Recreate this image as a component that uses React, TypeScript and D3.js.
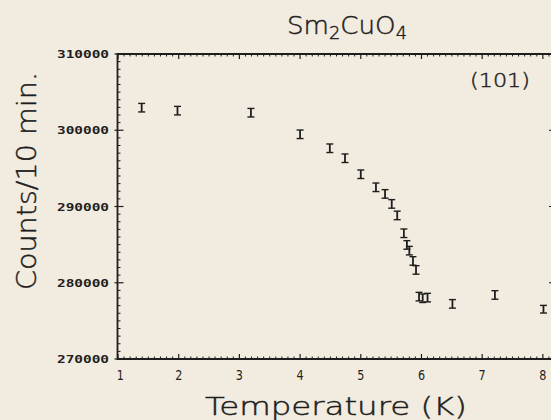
import React from "react";
import * as d3 from "d3";

const temperatures = [1.39, 1.98, 3.19, 4.0, 4.49, 4.74, 5.0, 5.25, 5.4, 5.51, 5.6, 5.71, 5.76, 5.8, 5.86, 5.91, 5.96, 6.02, 6.1, 6.51, 7.21, 8.01];
const counts = [302960, 302570, 302300, 299470, 297640, 296330, 294230, 292520, 291650, 290340, 288830, 286490, 284960, 284210, 282860, 281680, 278180, 277970, 278050, 277230, 278400, 276530];
const errors = [560, 560, 560, 560, 560, 560, 560, 560, 560, 560, 560, 560, 560, 560, 560, 560, 560, 560, 560, 560, 560, 500];
const xTicks = [1, 2, 3, 4, 5, 6, 7, 8];
const yTicks = [270000, 280000, 290000, 300000, 310000];

const W = 551;
const H = 420;
const left = 117.5;
const right = 555;
const top = 54;
const bottom = 359;

export default function App() {
  const x = d3.scaleLinear().domain([1, 8.2]).range([118, right]);
  const y = d3.scaleLinear().domain([270000, 310000]).range([bottom, top]);
  const xMinor = d3.range(10, 83).map((d) => d / 10).filter((d) => Math.abs(d - Math.round(d)) > 1e-6);
  const yMinor = d3.range(270, 311).map((d) => d * 1000).filter((d) => d % 10000 !== 0);
  const ink = "#1e1e1e";
  const sans = "'DejaVu Sans', sans-serif";
  const mono = "'DejaVu Sans Mono', monospace";
  const light = { fontFamily: sans, fontWeight: 200, fill: ink, stroke: ink, strokeWidth: 0.45 } as const;
  return (
    <svg width={W} height={H} style={{ position: "absolute", left: 0, top: 0 }}>
      <rect x={0} y={0} width={W} height={H} fill="#f2ebdf" />
      {xMinor.map((t) => (
        <g key={"xm" + t} stroke={ink} strokeWidth={1}>
          <line x1={x(t)} x2={x(t)} y1={bottom} y2={bottom - 2.5} />
          <line x1={x(t)} x2={x(t)} y1={top} y2={top + 2.5} />
        </g>
      ))}
      {yMinor.map((t) => (
        <g key={"ym" + t} stroke={ink} strokeWidth={1}>
          <line x1={left} x2={left + 3} y1={y(t)} y2={y(t)} />
          <line x1={right} x2={right - 3} y1={y(t)} y2={y(t)} />
        </g>
      ))}
      {xTicks.map((t) => (
        <g key={"xt" + t}>
          <line x1={x(t)} x2={x(t)} y1={bottom} y2={bottom - 5} stroke={ink} strokeWidth={1.2} />
          <line x1={x(t)} x2={x(t)} y1={top} y2={top + 5} stroke={ink} strokeWidth={1.2} />
          <text x={x(t) + (t === 1 ? 3 : 0)} y={380} textAnchor="middle" fontFamily={sans} fontSize={14} fill={ink} transform={`translate(${x(t)},0) scale(0.8,1) translate(${-x(t)},0)`}>
            {t}
          </text>
        </g>
      ))}
      {yTicks.map((t) => (
        <g key={"yt" + t}>
          <line x1={left - 3} x2={left + 6} y1={y(t)} y2={y(t)} stroke={ink} strokeWidth={1.2} />
          <line x1={right} x2={right - 6} y1={y(t)} y2={y(t)} stroke={ink} strokeWidth={1.2} />
          <text x={109} y={y(t) + 4} textAnchor="end" fontFamily={mono} fontWeight="bold" fontSize={11} fill={ink} textLength={52} lengthAdjust="spacingAndGlyphs">
            {t}
          </text>
        </g>
      ))}
      <path d={`M${right},${top}H${left}V${bottom}H${right}`} fill="none" stroke={ink} strokeWidth={1.8} />
      {temperatures.map((t, i) => {
        const cx = x(t);
        const y1 = y(counts[i] + errors[i]);
        const y2 = y(counts[i] - errors[i]);
        return (
          <g key={"p" + i} stroke={ink}>
            <line x1={cx} x2={cx} y1={y1} y2={y2} strokeWidth={1.8} />
            <line x1={cx - 3.5} x2={cx + 3.5} y1={y1} y2={y1} strokeWidth={1.4} />
            <line x1={cx - 3.5} x2={cx + 3.5} y1={y2} y2={y2} strokeWidth={1.4} />
          </g>
        );
      })}
      <text x={347} y={34} textAnchor="middle" {...light} fontSize={25} textLength={120} lengthAdjust="spacingAndGlyphs">
        Sm<tspan fontSize={17} dy={5}>2</tspan>
        <tspan dy={-5}>CuO</tspan>
        <tspan fontSize={17} dy={5}>4</tspan>
      </text>
      <text x={500} y={87} textAnchor="middle" {...light} fontSize={19} textLength={60} lengthAdjust="spacingAndGlyphs">
        (101)
      </text>
      <text x={336} y={415} textAnchor="middle" {...light} fontSize={25} textLength={262} lengthAdjust="spacingAndGlyphs">
        Temperature (K)
      </text>
      <text transform="translate(36,181) rotate(-90)" textAnchor="middle" {...light} fontSize={26} textLength={218} lengthAdjust="spacingAndGlyphs">
        Counts/10 min.
      </text>
    </svg>
  );
}
